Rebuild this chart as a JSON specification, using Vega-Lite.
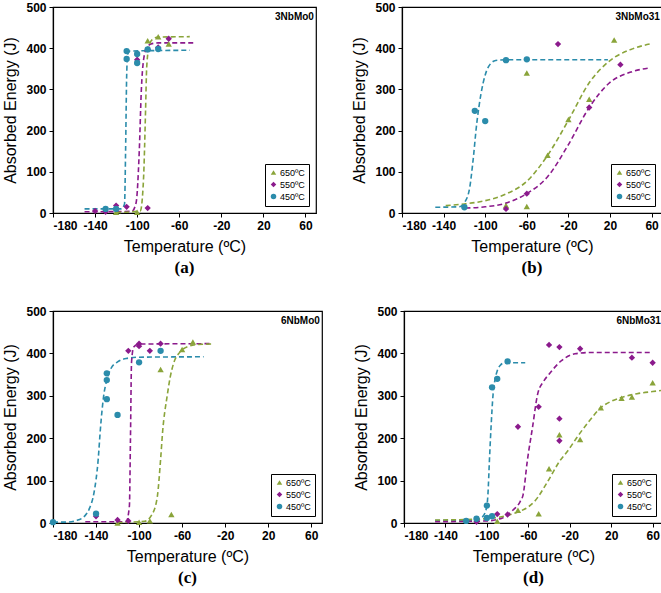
{
"$schema": "https://vega.github.io/schema/vega-lite/v6.json",
"padding": {"left": 2, "top": 0, "right": 2, "bottom": 2},
"background": "white",
"config": {
 "view": {"stroke": "#000", "strokeWidth": 1.2},
 "axis": {"labelFont": "Liberation Sans", "labelFontWeight": "bold", "labelFontSize": 12, "labelColor": "#000", "titleFont": "Liberation Sans", "titleFontSize": 16, "titleFontWeight": "normal", "titleColor": "#000", "domainColor": "#000", "domainWidth": 1.2, "tickColor": "#000", "tickSize": 4, "grid": false, "labelPadding": 3, "titlePadding": 7, "labelExpr": "toString(datum.value)"},
 "legend": {"orient": "bottom-right", "strokeColor": "#000", "fillColor": "white", "padding": 4, "offset": 7, "labelFontSize": 9, "labelFont": "Liberation Sans", "labelColor": "#000", "symbolSize": 30, "rowPadding": 2, "labelOffset": 2, "cornerRadius": 0},
 "title": {"font": "Liberation Serif", "fontSize": 17, "fontWeight": "bold", "color": "#000"}
},
"datasets": {
 "pts": [
  {"p":"a","s":"650ºC","t":-120,"e":2},{"p":"a","s":"650ºC","t":-100,"e":2},{"p":"a","s":"650ºC","t":-90,"e":418},{"p":"a","s":"650ºC","t":-80,"e":428},{"p":"a","s":"650ºC","t":-70,"e":410},
  {"p":"a","s":"550ºC","t":-140,"e":5},{"p":"a","s":"550ºC","t":-130,"e":3},{"p":"a","s":"550ºC","t":-120,"e":18},{"p":"a","s":"550ºC","t":-110,"e":15},{"p":"a","s":"550ºC","t":-100,"e":372},{"p":"a","s":"550ºC","t":-90,"e":12},{"p":"a","s":"550ºC","t":-90,"e":397},{"p":"a","s":"550ºC","t":-80,"e":402},{"p":"a","s":"550ºC","t":-70,"e":423},
  {"p":"a","s":"450ºC","t":-130,"e":10},{"p":"a","s":"450ºC","t":-120,"e":10},{"p":"a","s":"450ºC","t":-110,"e":393},{"p":"a","s":"450ºC","t":-110,"e":374},{"p":"a","s":"450ºC","t":-100,"e":386},{"p":"a","s":"450ºC","t":-100,"e":364},{"p":"a","s":"450ºC","t":-90,"e":397},{"p":"a","s":"450ºC","t":-80,"e":398},
  {"p":"b","s":"650ºC","t":-80,"e":18},{"p":"b","s":"650ºC","t":-60,"e":16},{"p":"b","s":"650ºC","t":-60,"e":340},{"p":"b","s":"650ºC","t":-40,"e":140},{"p":"b","s":"650ºC","t":-20,"e":227},{"p":"b","s":"650ºC","t":0,"e":276},{"p":"b","s":"650ºC","t":24,"e":420},
  {"p":"b","s":"550ºC","t":-80,"e":10},{"p":"b","s":"550ºC","t":-60,"e":47},{"p":"b","s":"550ºC","t":-30,"e":410},{"p":"b","s":"550ºC","t":0,"e":256},{"p":"b","s":"550ºC","t":30,"e":360},
  {"p":"b","s":"450ºC","t":-120,"e":14},{"p":"b","s":"450ºC","t":-110,"e":248},{"p":"b","s":"450ºC","t":-100,"e":223},{"p":"b","s":"450ºC","t":-80,"e":371},{"p":"b","s":"450ºC","t":-60,"e":373},
  {"p":"c","s":"650ºC","t":-120,"e":0},{"p":"c","s":"650ºC","t":-100,"e":2},{"p":"c","s":"650ºC","t":-90,"e":5},{"p":"c","s":"650ºC","t":-80,"e":362},{"p":"c","s":"650ºC","t":-70,"e":20},{"p":"c","s":"650ºC","t":-60,"e":409},{"p":"c","s":"650ºC","t":-50,"e":427},
  {"p":"c","s":"550ºC","t":-140,"e":16},{"p":"c","s":"550ºC","t":-120,"e":7},{"p":"c","s":"550ºC","t":-110,"e":5},{"p":"c","s":"550ºC","t":-110,"e":406},{"p":"c","s":"550ºC","t":-100,"e":423},{"p":"c","s":"550ºC","t":-100,"e":417},{"p":"c","s":"550ºC","t":-90,"e":406},{"p":"c","s":"550ºC","t":-80,"e":423},
  {"p":"c","s":"450ºC","t":-180,"e":2},{"p":"c","s":"450ºC","t":-140,"e":22},{"p":"c","s":"450ºC","t":-130,"e":353},{"p":"c","s":"450ºC","t":-130,"e":337},{"p":"c","s":"450ºC","t":-130,"e":292},{"p":"c","s":"450ºC","t":-120,"e":255},{"p":"c","s":"450ºC","t":-100,"e":379},{"p":"c","s":"450ºC","t":-80,"e":406},
  {"p":"d","s":"650ºC","t":-90,"e":4},{"p":"d","s":"650ºC","t":-70,"e":30},{"p":"d","s":"650ºC","t":-50,"e":22},{"p":"d","s":"650ºC","t":-40,"e":128},{"p":"d","s":"650ºC","t":-30,"e":208},{"p":"d","s":"650ºC","t":-10,"e":197},{"p":"d","s":"650ºC","t":10,"e":272},{"p":"d","s":"650ºC","t":30,"e":294},{"p":"d","s":"650ºC","t":40,"e":297},{"p":"d","s":"650ºC","t":60,"e":331},
  {"p":"d","s":"550ºC","t":-110,"e":3},{"p":"d","s":"550ºC","t":-90,"e":21},{"p":"d","s":"550ºC","t":-80,"e":20},{"p":"d","s":"550ºC","t":-70,"e":227},{"p":"d","s":"550ºC","t":-50,"e":274},{"p":"d","s":"550ºC","t":-40,"e":420},{"p":"d","s":"550ºC","t":-30,"e":415},{"p":"d","s":"550ºC","t":-30,"e":246},{"p":"d","s":"550ºC","t":-30,"e":194},{"p":"d","s":"550ºC","t":-10,"e":411},{"p":"d","s":"550ºC","t":40,"e":390},{"p":"d","s":"550ºC","t":60,"e":378},
  {"p":"d","s":"450ºC","t":-120,"e":5},{"p":"d","s":"450ºC","t":-110,"e":10},{"p":"d","s":"450ºC","t":-100,"e":41},{"p":"d","s":"450ºC","t":-100,"e":12},{"p":"d","s":"450ºC","t":-95,"e":16},{"p":"d","s":"450ºC","t":-95,"e":320},{"p":"d","s":"450ºC","t":-90,"e":340},{"p":"d","s":"450ºC","t":-80,"e":381}
 ],
 "cur": [
  {"p":"a","s":"450ºC","t":-150,"e":10},{"p":"a","s":"450ºC","t":-115,"e":10},{"p":"a","s":"450ºC","t":-112,"e":22},{"p":"a","s":"450ºC","t":-111,"e":150},{"p":"a","s":"450ºC","t":-110,"e":330},{"p":"a","s":"450ºC","t":-109,"e":385},{"p":"a","s":"450ºC","t":-107,"e":393},{"p":"a","s":"450ºC","t":-50,"e":395},
  {"p":"a","s":"550ºC","t":-150,"e":3},{"p":"a","s":"550ºC","t":-105,"e":4},{"p":"a","s":"550ºC","t":-101,"e":25},{"p":"a","s":"550ºC","t":-98,"e":150},{"p":"a","s":"550ºC","t":-96,"e":300},{"p":"a","s":"550ºC","t":-94,"e":370},{"p":"a","s":"550ºC","t":-91,"e":400},{"p":"a","s":"550ºC","t":-87,"e":410},{"p":"a","s":"550ºC","t":-80,"e":413},{"p":"a","s":"550ºC","t":-45,"e":413},
  {"p":"a","s":"650ºC","t":-120,"e":1},{"p":"a","s":"650ºC","t":-97,"e":5},{"p":"a","s":"650ºC","t":-94,"e":80},{"p":"a","s":"650ºC","t":-92,"e":250},{"p":"a","s":"650ºC","t":-91,"e":350},{"p":"a","s":"650ºC","t":-89,"e":400},{"p":"a","s":"650ºC","t":-86,"e":420},{"p":"a","s":"650ºC","t":-80,"e":427},{"p":"a","s":"650ºC","t":-50,"e":428},
  {"p":"b","s":"450ºC","t":-148,"e":14},{"p":"b","s":"450ºC","t":-125,"e":15},{"p":"b","s":"450ºC","t":-120,"e":25},{"p":"b","s":"450ºC","t":-115,"e":60},{"p":"b","s":"450ºC","t":-112,"e":120},{"p":"b","s":"450ºC","t":-108,"e":220},{"p":"b","s":"450ºC","t":-104,"e":290},{"p":"b","s":"450ºC","t":-100,"e":335},{"p":"b","s":"450ºC","t":-95,"e":362},{"p":"b","s":"450ºC","t":-90,"e":370},{"p":"b","s":"450ºC","t":-80,"e":372},{"p":"b","s":"450ºC","t":18,"e":372},
  {"p":"b","s":"650ºC","t":-138,"e":18},{"p":"b","s":"650ºC","t":-120,"e":22},{"p":"b","s":"650ºC","t":-100,"e":30},{"p":"b","s":"650ºC","t":-80,"e":46},{"p":"b","s":"650ºC","t":-60,"e":77},{"p":"b","s":"650ºC","t":-40,"e":140},{"p":"b","s":"650ºC","t":-20,"e":225},{"p":"b","s":"650ºC","t":0,"e":316},{"p":"b","s":"650ºC","t":20,"e":370},{"p":"b","s":"650ºC","t":40,"e":397},{"p":"b","s":"650ºC","t":60,"e":411},
  {"p":"b","s":"550ºC","t":-119,"e":12},{"p":"b","s":"550ºC","t":-100,"e":15},{"p":"b","s":"550ºC","t":-80,"e":24},{"p":"b","s":"550ºC","t":-60,"e":47},{"p":"b","s":"550ºC","t":-40,"e":88},{"p":"b","s":"550ºC","t":-20,"e":166},{"p":"b","s":"550ºC","t":0,"e":256},{"p":"b","s":"550ºC","t":20,"e":317},{"p":"b","s":"550ºC","t":40,"e":342},{"p":"b","s":"550ºC","t":58,"e":352},
  {"p":"c","s":"450ºC","t":-180,"e":2},{"p":"c","s":"450ºC","t":-168,"e":2},{"p":"c","s":"450ºC","t":-158,"e":6},{"p":"c","s":"450ºC","t":-150,"e":18},{"p":"c","s":"450ºC","t":-146,"e":35},{"p":"c","s":"450ºC","t":-142,"e":70},{"p":"c","s":"450ºC","t":-138,"e":150},{"p":"c","s":"450ºC","t":-136,"e":220},{"p":"c","s":"450ºC","t":-133,"e":298},{"p":"c","s":"450ºC","t":-130,"e":337},{"p":"c","s":"450ºC","t":-126,"e":365},{"p":"c","s":"450ºC","t":-120,"e":380},{"p":"c","s":"450ºC","t":-112,"e":388},{"p":"c","s":"450ºC","t":-100,"e":391},{"p":"c","s":"450ºC","t":-40,"e":392},
  {"p":"c","s":"550ºC","t":-150,"e":3},{"p":"c","s":"550ºC","t":-112,"e":3},{"p":"c","s":"550ºC","t":-109,"e":40},{"p":"c","s":"550ºC","t":-108,"e":200},{"p":"c","s":"550ºC","t":-107,"e":380},{"p":"c","s":"550ºC","t":-105,"e":415},{"p":"c","s":"550ºC","t":-100,"e":422},{"p":"c","s":"550ºC","t":-33,"e":423},
  {"p":"c","s":"650ºC","t":-120,"e":1},{"p":"c","s":"650ºC","t":-95,"e":4},{"p":"c","s":"650ºC","t":-88,"e":20},{"p":"c","s":"650ºC","t":-83,"e":63},{"p":"c","s":"650ºC","t":-80,"e":150},{"p":"c","s":"650ºC","t":-78,"e":219},{"p":"c","s":"650ºC","t":-74,"e":298},{"p":"c","s":"650ºC","t":-71,"e":345},{"p":"c","s":"650ºC","t":-68,"e":376},{"p":"c","s":"650ºC","t":-62,"e":403},{"p":"c","s":"650ºC","t":-55,"e":416},{"p":"c","s":"650ºC","t":-45,"e":421},{"p":"c","s":"650ºC","t":-33,"e":422},
  {"p":"d","s":"450ºC","t":-150,"e":6},{"p":"d","s":"450ºC","t":-110,"e":7},{"p":"d","s":"450ºC","t":-104,"e":15},{"p":"d","s":"450ºC","t":-100,"e":40},{"p":"d","s":"450ºC","t":-99,"e":67},{"p":"d","s":"450ºC","t":-97.5,"e":150},{"p":"d","s":"450ºC","t":-96,"e":225},{"p":"d","s":"450ºC","t":-94,"e":304},{"p":"d","s":"450ºC","t":-92,"e":340},{"p":"d","s":"450ºC","t":-90,"e":359},{"p":"d","s":"450ºC","t":-87,"e":372},{"p":"d","s":"450ºC","t":-83,"e":378},{"p":"d","s":"450ºC","t":-63,"e":378},
  {"p":"d","s":"550ºC","t":-150,"e":3},{"p":"d","s":"550ºC","t":-100,"e":5},{"p":"d","s":"550ºC","t":-85,"e":12},{"p":"d","s":"550ºC","t":-75,"e":30},{"p":"d","s":"550ºC","t":-68,"e":50},{"p":"d","s":"550ºC","t":-65,"e":67},{"p":"d","s":"550ºC","t":-61,"e":146},{"p":"d","s":"550ºC","t":-56,"e":225},{"p":"d","s":"550ºC","t":-51,"e":304},{"p":"d","s":"550ºC","t":-45,"e":335},{"p":"d","s":"550ºC","t":-40,"e":351},{"p":"d","s":"550ºC","t":-28,"e":383},{"p":"d","s":"550ºC","t":-15,"e":399},{"p":"d","s":"550ºC","t":0,"e":402},{"p":"d","s":"550ºC","t":60,"e":402},
  {"p":"d","s":"650ºC","t":-150,"e":7},{"p":"d","s":"650ºC","t":-110,"e":9},{"p":"d","s":"650ºC","t":-90,"e":13},{"p":"d","s":"650ºC","t":-70,"e":26},{"p":"d","s":"650ºC","t":-60,"e":38},{"p":"d","s":"650ºC","t":-54,"e":51},{"p":"d","s":"650ºC","t":-41,"e":99},{"p":"d","s":"650ºC","t":-30,"e":145},{"p":"d","s":"650ºC","t":-22,"e":170},{"p":"d","s":"650ºC","t":-11,"e":209},{"p":"d","s":"650ºC","t":-1,"e":241},{"p":"d","s":"650ºC","t":10,"e":272},{"p":"d","s":"650ºC","t":20,"e":287},{"p":"d","s":"650ºC","t":30,"e":296},{"p":"d","s":"650ºC","t":45,"e":305},{"p":"d","s":"650ºC","t":60,"e":310},{"p":"d","s":"650ºC","t":70,"e":313}
 ]
},
"resolve": {"scale": {"color": "independent", "shape": "independent", "stroke": "independent"}, "legend": {"color": "independent", "shape": "independent"}},
"vconcat": [
 {"spacing": 34,
  "resolve": {"scale": {"color": "independent", "shape": "independent", "stroke": "independent"}, "legend": {"color": "independent", "shape": "independent"}},
  "hconcat": [
  {"width": 263, "height": 206, "title": {"text": "(a)", "orient": "bottom", "offset": 6},
   "layer": [
    {"data": {"name": "cur"}, "transform": [{"filter": "datum.p == 'a'"}], "mark": {"type": "line", "strokeDash": [5, 3], "strokeWidth": 1.6, "interpolate": "monotone"},
     "encoding": {"x": {"field": "t", "type": "quantitative", "scale": {"domain": [-180, 70], "nice": false, "zero": false}, "axis": {"values": [-180, -140, -100, -60, -20, 20, 60], "title": "Temperature (ºC)"}},
      "y": {"field": "e", "type": "quantitative", "scale": {"domain": [0, 500], "nice": false}, "axis": {"values": [0, 100, 200, 300, 400, 500], "title": "Absorbed Energy (J)"}},
      "stroke": {"field": "s", "type": "nominal", "scale": {"domain": ["450ºC", "550ºC", "650ºC"], "range": ["#2b8cab", "#8b1a8c", "#8aa43a"]}, "legend": null}}},
    {"data": {"name": "pts"}, "transform": [{"filter": "datum.p == 'a'"}], "mark": {"type": "point", "filled": true, "opacity": 1, "size": 40},
     "encoding": {"x": {"field": "t", "type": "quantitative"}, "y": {"field": "e", "type": "quantitative"},
      "color": {"field": "s", "type": "nominal", "scale": {"domain": ["650ºC", "550ºC", "450ºC"], "range": ["#8aa43a", "#8b1a8c", "#2b8cab"]}, "legend": {"title": null}},
      "shape": {"field": "s", "type": "nominal", "scale": {"domain": ["650ºC", "550ºC", "450ºC"], "range": ["triangle-up", "diamond", "circle"]}, "legend": {"title": null}}}},
    {"data": {"values": [{"lab": "3NbMo0", "t": 68, "e": 476}]}, "mark": {"type": "text", "align": "right", "baseline": "middle", "font": "Liberation Sans", "fontWeight": "bold", "fontSize": 10, "color": "#000"},
     "encoding": {"x": {"field": "t", "type": "quantitative"}, "y": {"field": "e", "type": "quantitative"}, "text": {"field": "lab"}}}
   ]},
  {"width": 260, "height": 206, "title": {"text": "(b)", "orient": "bottom", "offset": 6},
   "layer": [
    {"data": {"name": "cur"}, "transform": [{"filter": "datum.p == 'b'"}], "mark": {"type": "line", "strokeDash": [5, 3], "strokeWidth": 1.6, "interpolate": "monotone"},
     "encoding": {"x": {"field": "t", "type": "quantitative", "scale": {"domain": [-180, 70], "nice": false, "zero": false}, "axis": {"values": [-180, -140, -100, -60, -20, 20, 60], "title": "Temperature (ºC)"}},
      "y": {"field": "e", "type": "quantitative", "scale": {"domain": [0, 500], "nice": false}, "axis": {"values": [0, 100, 200, 300, 400, 500], "title": "Absorbed Energy (J)"}},
      "stroke": {"field": "s", "type": "nominal", "scale": {"domain": ["450ºC", "550ºC", "650ºC"], "range": ["#2b8cab", "#8b1a8c", "#8aa43a"]}, "legend": null}}},
    {"data": {"name": "pts"}, "transform": [{"filter": "datum.p == 'b'"}], "mark": {"type": "point", "filled": true, "opacity": 1, "size": 40},
     "encoding": {"x": {"field": "t", "type": "quantitative"}, "y": {"field": "e", "type": "quantitative"},
      "color": {"field": "s", "type": "nominal", "scale": {"domain": ["650ºC", "550ºC", "450ºC"], "range": ["#8aa43a", "#8b1a8c", "#2b8cab"]}, "legend": {"title": null}},
      "shape": {"field": "s", "type": "nominal", "scale": {"domain": ["650ºC", "550ºC", "450ºC"], "range": ["triangle-up", "diamond", "circle"]}, "legend": {"title": null}}}},
    {"data": {"values": [{"lab": "3NbMo31", "t": 68, "e": 476}]}, "mark": {"type": "text", "align": "right", "baseline": "middle", "font": "Liberation Sans", "fontWeight": "bold", "fontSize": 10, "color": "#000"},
     "encoding": {"x": {"field": "t", "type": "quantitative"}, "y": {"field": "e", "type": "quantitative"}, "text": {"field": "lab"}}}
   ]}
 ]},
 {"spacing": 30,
  "resolve": {"scale": {"color": "independent", "shape": "independent", "stroke": "independent"}, "legend": {"color": "independent", "shape": "independent"}},
  "hconcat": [
  {"width": 269, "height": 212, "title": {"text": "(c)", "orient": "bottom", "offset": 6},
   "layer": [
    {"data": {"name": "cur"}, "transform": [{"filter": "datum.p == 'c'"}], "mark": {"type": "line", "strokeDash": [5, 3], "strokeWidth": 1.6, "interpolate": "monotone"},
     "encoding": {"x": {"field": "t", "type": "quantitative", "scale": {"domain": [-180, 70], "nice": false, "zero": false}, "axis": {"values": [-180, -140, -100, -60, -20, 20, 60], "title": "Temperature (ºC)"}},
      "y": {"field": "e", "type": "quantitative", "scale": {"domain": [0, 500], "nice": false}, "axis": {"values": [0, 100, 200, 300, 400, 500], "title": "Absorbed Energy (J)"}},
      "stroke": {"field": "s", "type": "nominal", "scale": {"domain": ["450ºC", "550ºC", "650ºC"], "range": ["#2b8cab", "#8b1a8c", "#8aa43a"]}, "legend": null}}},
    {"data": {"name": "pts"}, "transform": [{"filter": "datum.p == 'c'"}], "mark": {"type": "point", "filled": true, "opacity": 1, "size": 40},
     "encoding": {"x": {"field": "t", "type": "quantitative"}, "y": {"field": "e", "type": "quantitative"},
      "color": {"field": "s", "type": "nominal", "scale": {"domain": ["650ºC", "550ºC", "450ºC"], "range": ["#8aa43a", "#8b1a8c", "#2b8cab"]}, "legend": {"title": null}},
      "shape": {"field": "s", "type": "nominal", "scale": {"domain": ["650ºC", "550ºC", "450ºC"], "range": ["triangle-up", "diamond", "circle"]}, "legend": {"title": null}}}},
    {"data": {"values": [{"lab": "6NbMo0", "t": 68, "e": 476}]}, "mark": {"type": "text", "align": "right", "baseline": "middle", "font": "Liberation Sans", "fontWeight": "bold", "fontSize": 10, "color": "#000"},
     "encoding": {"x": {"field": "t", "type": "quantitative"}, "y": {"field": "e", "type": "quantitative"}, "text": {"field": "lab"}}}
   ]},
  {"width": 259, "height": 212, "title": {"text": "(d)", "orient": "bottom", "offset": 6},
   "layer": [
    {"data": {"name": "cur"}, "transform": [{"filter": "datum.p == 'd'"}], "mark": {"type": "line", "strokeDash": [5, 3], "strokeWidth": 1.6, "interpolate": "monotone"},
     "encoding": {"x": {"field": "t", "type": "quantitative", "scale": {"domain": [-180, 70], "nice": false, "zero": false}, "axis": {"values": [-180, -140, -100, -60, -20, 20, 60], "title": "Temperature (ºC)"}},
      "y": {"field": "e", "type": "quantitative", "scale": {"domain": [0, 500], "nice": false}, "axis": {"values": [0, 100, 200, 300, 400, 500], "title": "Absorbed Energy (J)"}},
      "stroke": {"field": "s", "type": "nominal", "scale": {"domain": ["450ºC", "550ºC", "650ºC"], "range": ["#2b8cab", "#8b1a8c", "#8aa43a"]}, "legend": null}}},
    {"data": {"name": "pts"}, "transform": [{"filter": "datum.p == 'd'"}], "mark": {"type": "point", "filled": true, "opacity": 1, "size": 40},
     "encoding": {"x": {"field": "t", "type": "quantitative"}, "y": {"field": "e", "type": "quantitative"},
      "color": {"field": "s", "type": "nominal", "scale": {"domain": ["650ºC", "550ºC", "450ºC"], "range": ["#8aa43a", "#8b1a8c", "#2b8cab"]}, "legend": {"title": null}},
      "shape": {"field": "s", "type": "nominal", "scale": {"domain": ["650ºC", "550ºC", "450ºC"], "range": ["triangle-up", "diamond", "circle"]}, "legend": {"title": null}}}},
    {"data": {"values": [{"lab": "6NbMo31", "t": 68, "e": 476}]}, "mark": {"type": "text", "align": "right", "baseline": "middle", "font": "Liberation Sans", "fontWeight": "bold", "fontSize": 10, "color": "#000"},
     "encoding": {"x": {"field": "t", "type": "quantitative"}, "y": {"field": "e", "type": "quantitative"}, "text": {"field": "lab"}}}
   ]}
 ]}
],
"spacing": 27
}
